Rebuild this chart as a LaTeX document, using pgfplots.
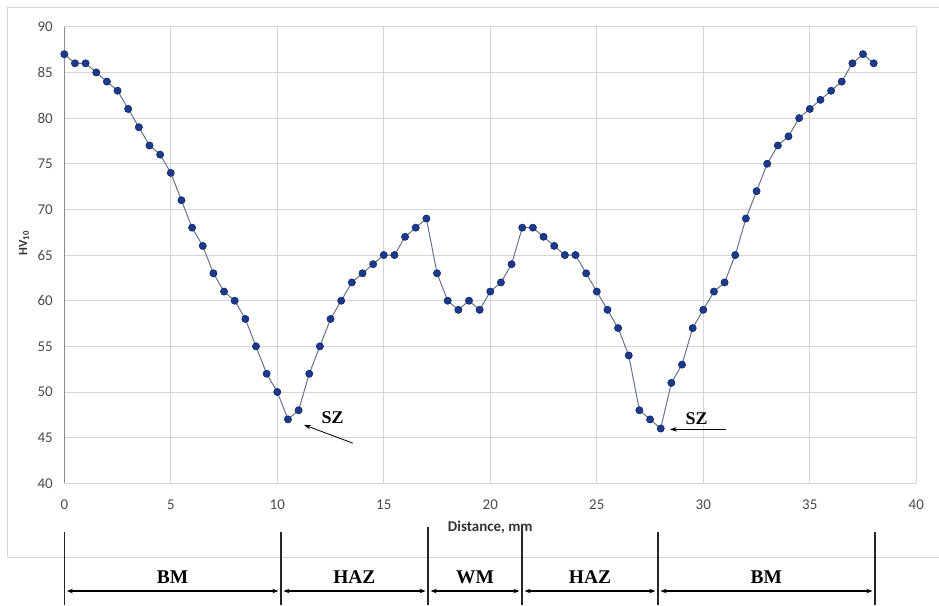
\documentclass[border=0pt]{standalone}
\usepackage{pgfplots}
\pgfplotsset{compat=1.18}
\usepackage{fontspec}
\setmainfont{Carlito}
\newfontfamily\tnr{Liberation Serif}
\usetikzlibrary{arrows.meta}
\definecolor{mk}{HTML}{1C3A8C}
\definecolor{mkd}{HTML}{0F2766}
\definecolor{ln}{HTML}{66718A}
\definecolor{tick}{HTML}{4A4A4A}
\definecolor{gridc}{HTML}{D6D6D6}
\pgfplotstableread{
x y
0 87
0.5 86
1 86
1.5 85
2 84
2.5 83
3 81
3.5 79
4 77
4.5 76
5 74
5.5 71
6 68
6.5 66
7 63
7.5 61
8 60
8.5 58
9 55
9.5 52
10 50
10.5 47
11 48
11.5 52
12 55
12.5 58
13 60
13.5 62
14 63
14.5 64
15 65
15.5 65
16 67
16.5 68
17 69
17.5 63
18 60
18.5 59
19 60
19.5 59
20 61
20.5 62
21 64
21.5 68
22 68
22.5 67
23 66
23.5 65
24 65
24.5 63
25 61
25.5 59
26 57
26.5 54
27 48
27.5 47
28 46
28.5 51
29 53
29.5 57
30 59
30.5 61
31 62
31.5 65
32 69
32.5 72
33 75
33.5 77
34 78
34.5 80
35 81
35.5 82
36 83
36.5 84
37 86
37.5 87
38 86
}\hvdata
\tikzset{zl/.style={black!85, line width=1.4pt},
  za/.style={{Stealth[length=6bp,width=4.5bp]}-{Stealth[length=6bp,width=4.5bp]}, line width=1.3pt},
  zt/.style={font=\tnr\bfseries\fontsize{19.5}{21}\selectfont}}
\begin{document}
\begin{tikzpicture}
\useasboundingbox (-64.3bp,-122.7bp) rectangle (874.7bp,483.3bp);
\begin{axis}[
  at={(0,0)}, anchor=south west,
  scale only axis, width=852bp, height=456.5bp,
  xmin=0, xmax=40, ymin=40, ymax=90,
  xtick={0,5,...,40}, ytick={40,45,...,90},
  grid=major, major grid style={draw=gridc, line width=0.9pt},
  axis line style={draw=none},
  major tick length=0pt,
  clip=false,
  /pgf/number format/assume math mode=true,
  tick label style={font=\fontsize{15}{17}\selectfont, text=tick},
  yticklabel style={anchor=east, xshift=-8bp},
  xticklabel style={anchor=center, yshift=-21bp},
  xlabel={\textbf{Distance, mm}},
  xlabel style={at={(axis description cs:0.5,-0.0957)}, anchor=center, font=\fontsize{15}{17}\selectfont, text=black!80},
  ylabel={\textbf{HV\textsubscript{10}}},
  ylabel style={at={(axis description cs:-0.0473,0.526)}, anchor=center, rotate=0, font=\fontsize{12.5}{14}\selectfont, text=black!80},
]
% chart border
\draw[gridc, line width=0.9pt] (axis cs:41.07,92.17) -- (axis cs:-2.69,92.17) -- (axis cs:-2.69,31.93) -- (axis cs:41.07,31.93);
% left axis line
\draw[black!45, line width=1.2pt] (axis cs:0,40) -- (axis cs:0,90);
\addplot[color=ln, line width=1pt, mark=*, mark size=3.6bp, mark options={fill=mk, draw=mkd, line width=0.6pt}] table[x=x,y=y] {\hvdata};
% SZ annotations
\draw[-{Stealth[length=7bp,width=4.5bp]}, line width=0.8pt] (axis cs:13.54,44.4) -- (axis cs:11.25,46.4);
\node[font=\tnr\bfseries\fontsize{18}{20}\selectfont] at (axis cs:12.6,47.2) {SZ};
\draw[-{Stealth[length=7bp,width=4.5bp]}, line width=0.8pt] (axis cs:31.06,45.91) -- (axis cs:28.43,45.91);
\node[font=\tnr\bfseries\fontsize{18}{20}\selectfont] at (axis cs:29.69,47.12) {SZ};
% zones
\draw[zl] (axis cs:0,34.67) -- (axis cs:0,26.7);
\draw[zl] (axis cs:10.17,34.67) -- (axis cs:10.17,26.7);
\draw[zl] (axis cs:17.08,35.2) -- (axis cs:17.08,26.7);
\draw[zl] (axis cs:21.49,35.4) -- (axis cs:21.49,26.7);
\draw[zl] (axis cs:27.87,34.67) -- (axis cs:27.87,26.7);
\draw[zl] (axis cs:38.06,34.67) -- (axis cs:38.06,26.7);
\draw[za] (axis cs:0.12,28.2) -- (axis cs:10.05,28.2);
\draw[za] (axis cs:10.29,28.2) -- (axis cs:16.96,28.2);
\draw[za] (axis cs:17.20,28.2) -- (axis cs:21.37,28.2);
\draw[za] (axis cs:21.61,28.2) -- (axis cs:27.75,28.2);
\draw[za] (axis cs:27.99,28.2) -- (axis cs:37.94,28.2);
\node[zt] at (axis cs:5.08,29.75) {BM};
\node[zt] at (axis cs:13.62,29.75) {HAZ};
\node[zt] at (axis cs:19.28,29.75) {WM};
\node[zt] at (axis cs:24.68,29.75) {HAZ};
\node[zt] at (axis cs:32.96,29.75) {BM};
\end{axis}
\end{tikzpicture}
\end{document}
